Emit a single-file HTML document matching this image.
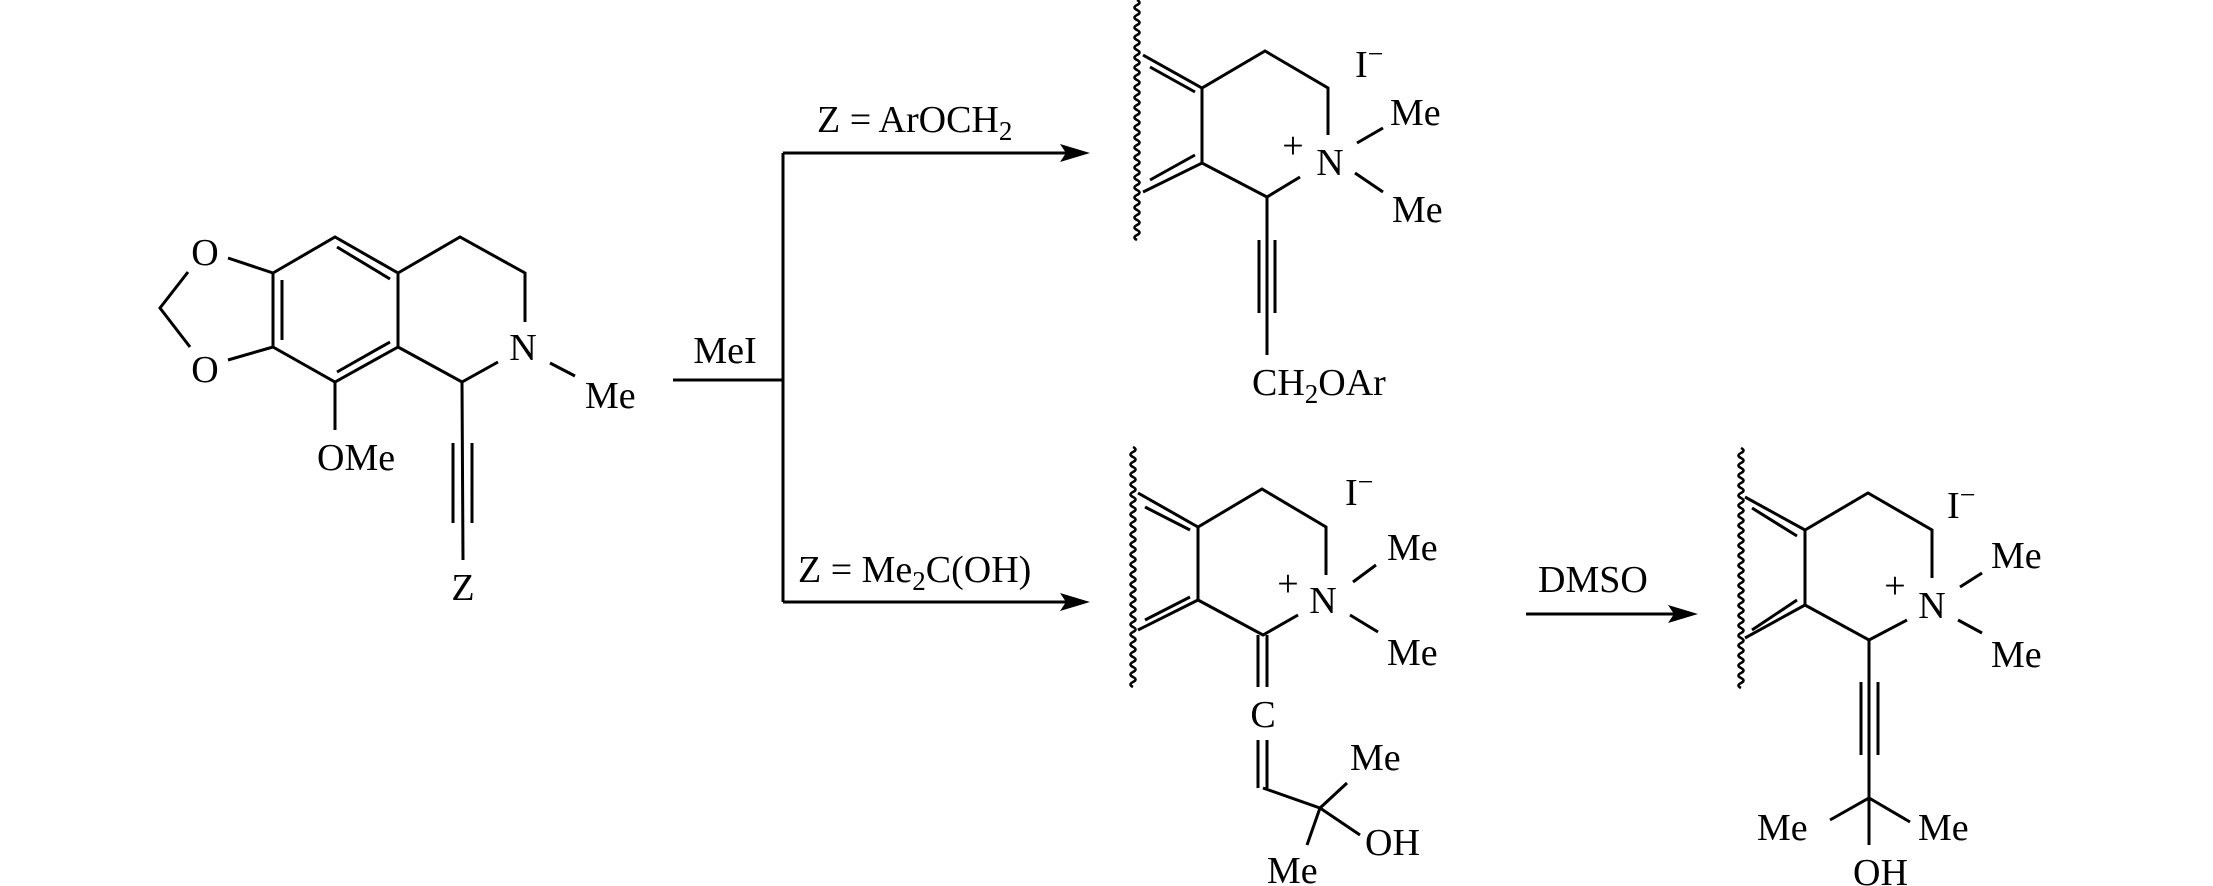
<!DOCTYPE html>
<html><head><meta charset="utf-8"><style>
html,body{margin:0;padding:0;background:#fff;}
svg{display:block;}
text{font-family:"Liberation Serif",serif;font-size:38px;fill:#000;}
</style></head><body>
<svg width="2213" height="886" viewBox="0 0 2213 886" xmlns="http://www.w3.org/2000/svg">
<defs>
<path id="wv" fill="none" stroke="#000" stroke-width="2.6" d="M0 0 q5 2.5 0 5 q-5 2.5 0 5 q5 2.5 0 5 q-5 2.5 0 5 q5 2.5 0 5 q-5 2.5 0 5 q5 2.5 0 5 q-5 2.5 0 5 q5 2.5 0 5 q-5 2.5 0 5 q5 2.5 0 5 q-5 2.5 0 5 q5 2.5 0 5 q-5 2.5 0 5 q5 2.5 0 5 q-5 2.5 0 5 q5 2.5 0 5 q-5 2.5 0 5 q5 2.5 0 5 q-5 2.5 0 5 q5 2.5 0 5 q-5 2.5 0 5 q5 2.5 0 5 q-5 2.5 0 5 q5 2.5 0 5 q-5 2.5 0 5 q5 2.5 0 5 q-5 2.5 0 5 q5 2.5 0 5 q-5 2.5 0 5 q5 2.5 0 5 q-5 2.5 0 5 q5 2.5 0 5 q-5 2.5 0 5 q5 2.5 0 5 q-5 2.5 0 5 q5 2.5 0 5 q-5 2.5 0 5 q5 2.5 0 5 q-5 2.5 0 5 q5 2.5 0 5 q-5 2.5 0 5 q5 2.5 0 5 q-5 2.5 0 5 q5 2.5 0 5 q-5 2.5 0 5 q5 2.5 0 5 q-5 2.5 0 5"/>
</defs>
<g stroke="#000" stroke-width="3" fill="none" stroke-linecap="butt">
<!-- left molecule -->
<polyline points="273,273 335,237 398,273 398,347 335,382 273,347 273,273"/>
<line x1="337" y1="247" x2="390" y2="279"/>
<line x1="282" y1="280" x2="282" y2="340"/>
<line x1="337" y1="372" x2="390" y2="342"/>
<polyline points="398,273 460,237 525,273 525,322"/>
<polyline points="498,362 462,382 398,347"/>
<line x1="550" y1="363" x2="575" y2="376"/>
<line x1="228" y1="258" x2="273" y2="273"/>
<line x1="228" y1="360" x2="273" y2="347"/>
<polyline points="188,272 160,308 190,347"/>
<line x1="335" y1="382" x2="335" y2="430"/>
<line x1="462" y1="382" x2="463" y2="560"/>
<line x1="453" y1="443" x2="453" y2="523"/>
<line x1="472" y1="443" x2="472" y2="523"/>
<!-- arrows -->
<line x1="673" y1="380" x2="783" y2="380"/>
<line x1="783" y1="153" x2="783" y2="602"/>
<line x1="783" y1="153" x2="1070" y2="153"/>
<line x1="783" y1="602" x2="1070" y2="602"/>
<line x1="1526" y1="614" x2="1678" y2="614"/>
<!-- top product -->
<polyline points="1143,55 1202,88 1265,51 1328,88 1328,135"/>
<line x1="1150" y1="67" x2="1195" y2="92"/>
<line x1="1202" y1="88" x2="1202" y2="163"/>
<polyline points="1143,192 1202,163 1267,197 1300,177"/>
<line x1="1150" y1="180" x2="1195" y2="155"/>
<line x1="1357" y1="143" x2="1383" y2="128"/>
<line x1="1355" y1="173" x2="1383" y2="192"/>
<line x1="1267" y1="197" x2="1267" y2="355"/>
<line x1="1259" y1="240" x2="1259" y2="313"/>
<line x1="1275" y1="240" x2="1275" y2="313"/>
<!-- middle product -->
<polyline points="1138,493 1198,527 1262,489 1326,527 1326,575"/>
<line x1="1145" y1="507" x2="1190" y2="530"/>
<line x1="1198" y1="527" x2="1198" y2="600"/>
<polyline points="1138,630 1198,600 1263,635 1298,615"/>
<line x1="1145" y1="620" x2="1190" y2="597"/>
<line x1="1353" y1="582" x2="1376" y2="565"/>
<line x1="1350" y1="615" x2="1378" y2="632"/>
<line x1="1258" y1="635" x2="1258" y2="687"/>
<line x1="1267" y1="635" x2="1267" y2="687"/>
<line x1="1258" y1="740" x2="1258" y2="788"/>
<line x1="1267" y1="740" x2="1267" y2="788"/>
<polyline points="1263,788 1320,808 1347,783"/>
<line x1="1320" y1="808" x2="1360" y2="835"/>
<line x1="1320" y1="808" x2="1307" y2="845"/>
<!-- right product -->
<polyline points="1745,497 1805,530 1868,493 1932,530 1932,578"/>
<line x1="1752" y1="508" x2="1797" y2="536"/>
<line x1="1805" y1="530" x2="1805" y2="605"/>
<polyline points="1745,638 1805,605 1869,640 1907,620"/>
<line x1="1752" y1="630" x2="1797" y2="600"/>
<line x1="1960" y1="587" x2="1982" y2="573"/>
<line x1="1958" y1="620" x2="1982" y2="633"/>
<line x1="1869" y1="640" x2="1869" y2="845"/>
<line x1="1861" y1="682" x2="1861" y2="755"/>
<line x1="1878" y1="682" x2="1878" y2="755"/>
<polyline points="1830,820 1869,798 1910,822"/>
</g>
<!-- arrowheads -->
<g fill="#000">
<path d="M1090,153 L1060,144 L1066,153 L1060,162 Z"/>
<path d="M1090,602 L1060,593 L1066,602 L1060,611 Z"/>
<path d="M1698,614 L1668,605 L1674,614 L1668,623 Z"/>
</g>
<!-- wavy lines -->
<use href="#wv" x="1137" y="0"/>
<use href="#wv" x="1133" y="447"/>
<use href="#wv" x="1741" y="448"/>
<!-- texts left -->
<text x="205" y="265" text-anchor="middle">O</text>
<text x="205" y="382" text-anchor="middle">O</text>
<text x="523" y="360" text-anchor="middle">N</text>
<text x="585" y="408">Me</text>
<text x="317" y="470">OMe</text>
<text x="463" y="600" text-anchor="middle">Z</text>
<text x="725" y="363" text-anchor="middle">MeI</text>
<text x="817" y="132">Z = ArOCH<tspan dy="8" font-size="27">2</tspan></text>
<text x="798" y="582">Z = Me<tspan dy="8" font-size="27">2</tspan><tspan dy="-8">C(OH)</tspan></text>
<text x="1538" y="592">DMSO</text>
<!-- top product text -->
<text x="1330" y="175" text-anchor="middle">N</text>
<text x="1293" y="158" text-anchor="middle" font-size="28">+</text>
<text x="1355" y="77">I<tspan dy="-14" font-size="28">−</tspan></text>
<text x="1390" y="125">Me</text>
<text x="1392" y="222">Me</text>
<text x="1252" y="395">CH<tspan dy="8" font-size="27">2</tspan><tspan dy="-8">OAr</tspan></text>
<!-- middle product text -->
<text x="1323" y="613" text-anchor="middle">N</text>
<text x="1288" y="596" text-anchor="middle" font-size="28">+</text>
<text x="1345" y="505">I<tspan dy="-14" font-size="28">−</tspan></text>
<text x="1387" y="560">Me</text>
<text x="1387" y="665">Me</text>
<text x="1263" y="727" text-anchor="middle">C</text>
<text x="1350" y="770">Me</text>
<text x="1365" y="855">OH</text>
<text x="1267" y="883">Me</text>
<!-- right product text -->
<text x="1932" y="618" text-anchor="middle">N</text>
<text x="1895" y="598" text-anchor="middle" font-size="28">+</text>
<text x="1947" y="518">I<tspan dy="-14" font-size="28">−</tspan></text>
<text x="1991" y="568">Me</text>
<text x="1991" y="667">Me</text>
<text x="1757" y="840">Me</text>
<text x="1918" y="840">Me</text>
<text x="1853" y="885">OH</text>
</svg>
</body></html>
